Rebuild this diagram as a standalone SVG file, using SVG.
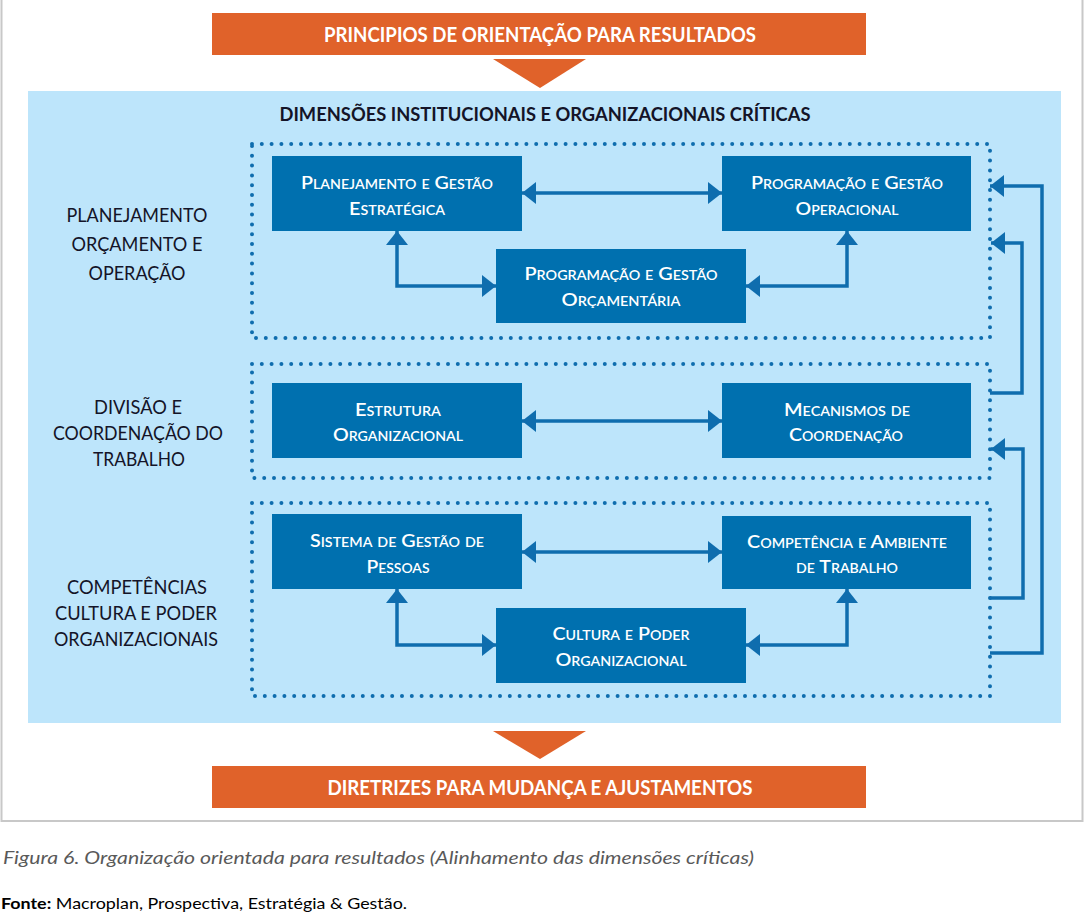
<svg xmlns="http://www.w3.org/2000/svg" width="1084" height="922" viewBox="0 0 1084 922">
<style>
.banner{fill:#E0622A}
.bantxt{font-family:Lato,"Liberation Sans",sans-serif;font-weight:bold;font-size:20px;fill:#fff;text-anchor:middle}
.box{fill:#0070AF}
.btxt{font-family:Lato,"Liberation Sans",sans-serif;font-size:18px;font-variant:small-caps;fill:#fff;text-anchor:middle;font-weight:600}
.lbl{font-family:Lato,"Liberation Sans",sans-serif;font-size:19px;fill:#141428;text-anchor:middle}
.dot{fill:none;stroke:#0F6DAE;stroke-width:4;stroke-linecap:round;stroke-dasharray:0 9.8}
.con{fill:none;stroke:#0F6DAE;stroke-width:3.5}
</style>
<defs>
<marker id="ah" viewBox="0 0 14 22" refX="14" refY="11" markerWidth="14" markerHeight="22" markerUnits="userSpaceOnUse" orient="auto-start-reverse">
<path d="M0,0 L14,11 L0,22 Z" fill="#0F6DAE"/>
</marker>
</defs>
<rect x="0" y="0" width="1084" height="922" fill="#fff"/>
<path d="M1.5,-5 V821 H1082.5 V-5" fill="none" stroke="#C8C8C8" stroke-width="2"/>

<g id="top-banner">
<rect class="banner" x="212" y="13" width="654" height="42"/>
<text class="bantxt" x="540" y="42" textLength="432" lengthAdjust="spacingAndGlyphs">PRINCIPIOS DE ORIENTAÇÃO PARA RESULTADOS</text>
<path class="banner" d="M493,59 H586 L540,88 Z"/>
</g>

<g id="panel">
<rect x="28" y="91" width="1033" height="632" fill="#BDE5FB"/>
<text x="545" y="121" font-family="Lato,'Liberation Sans',sans-serif" font-weight="bold" font-size="19" fill="#141428" text-anchor="middle" textLength="531" lengthAdjust="spacingAndGlyphs">DIMENSÕES INSTITUCIONAIS E ORGANIZACIONAIS CRÍTICAS</text>
</g>

<g id="groups">
<rect class="dot" x="252" y="144" width="738" height="194"/>
<rect class="dot" x="252" y="364" width="738" height="114"/>
<rect class="dot" x="252" y="503" width="738" height="193"/>
</g>

<g id="labels">
<text class="lbl" x="137" y="222" textLength="141" lengthAdjust="spacingAndGlyphs">PLANEJAMENTO</text>
<text class="lbl" x="137" y="251" textLength="131" lengthAdjust="spacingAndGlyphs">ORÇAMENTO E</text>
<text class="lbl" x="137" y="280" textLength="97" lengthAdjust="spacingAndGlyphs">OPERAÇÃO</text>
<text class="lbl" x="138" y="414" textLength="88" lengthAdjust="spacingAndGlyphs">DIVISÃO E</text>
<text class="lbl" x="138" y="440" textLength="170" lengthAdjust="spacingAndGlyphs">COORDENAÇÃO DO</text>
<text class="lbl" x="139" y="466" textLength="92" lengthAdjust="spacingAndGlyphs">TRABALHO</text>
<text class="lbl" x="137" y="594" textLength="140" lengthAdjust="spacingAndGlyphs">COMPETÊNCIAS</text>
<text class="lbl" x="136" y="620" textLength="162" lengthAdjust="spacingAndGlyphs">CULTURA E PODER</text>
<text class="lbl" x="136" y="646" textLength="164" lengthAdjust="spacingAndGlyphs">ORGANIZACIONAIS</text>
</g>

<g id="connectors">
<path class="con" d="M522,193 H722" marker-start="url(#ah)" marker-end="url(#ah)"/>
<path class="con" d="M397,231 V286 H496" marker-start="url(#ah)" marker-end="url(#ah)"/>
<path class="con" d="M746,286 H847 V231" marker-start="url(#ah)" marker-end="url(#ah)"/>
<path class="con" d="M522,421 H722" marker-start="url(#ah)" marker-end="url(#ah)"/>
<path class="con" d="M522,552 H722" marker-start="url(#ah)" marker-end="url(#ah)"/>
<path class="con" d="M397,589 V645 H496" marker-start="url(#ah)" marker-end="url(#ah)"/>
<path class="con" d="M746,645 H847 V589" marker-start="url(#ah)" marker-end="url(#ah)"/>
<path class="con" d="M990,653 H1042 V186 H990" marker-end="url(#ah)"/>
<path class="con" d="M990,598 H1023 V449 H991" marker-end="url(#ah)"/>
<path class="con" d="M990,393 H1022 V243 H991" marker-end="url(#ah)"/>
</g>

<g id="n-pge">
<rect class="box" x="272" y="156" width="250" height="75"/>
<text class="btxt" x="397" y="189" textLength="192" lengthAdjust="spacingAndGlyphs">Planejamento e Gestão</text>
<text class="btxt" x="397" y="215" textLength="96" lengthAdjust="spacingAndGlyphs">Estratégica</text>
</g>
<g id="n-pgo">
<rect class="box" x="722" y="156" width="249" height="75"/>
<text class="btxt" x="847" y="189" textLength="192" lengthAdjust="spacingAndGlyphs">Programação e Gestão</text>
<text class="btxt" x="847" y="215" textLength="103" lengthAdjust="spacingAndGlyphs">Operacional</text>
</g>
<g id="n-pgorc">
<rect class="box" x="496" y="249" width="250" height="74"/>
<text class="btxt" x="621" y="280" textLength="193" lengthAdjust="spacingAndGlyphs">Programação e Gestão</text>
<text class="btxt" x="621" y="306" textLength="119" lengthAdjust="spacingAndGlyphs">Orçamentária</text>
</g>
<g id="n-estrutura">
<rect class="box" x="272" y="383" width="250" height="75"/>
<text class="btxt" x="398" y="416" textLength="86" lengthAdjust="spacingAndGlyphs">Estrutura</text>
<text class="btxt" x="398" y="441" textLength="130" lengthAdjust="spacingAndGlyphs">Organizacional</text>
</g>
<g id="n-mecanismos">
<rect class="box" x="722" y="383" width="249" height="75"/>
<text class="btxt" x="847" y="416" textLength="126" lengthAdjust="spacingAndGlyphs">Mecanismos de</text>
<text class="btxt" x="846" y="441" textLength="114" lengthAdjust="spacingAndGlyphs">Coordenação</text>
</g>
<g id="n-sistema">
<rect class="box" x="272" y="514" width="250" height="75"/>
<text class="btxt" x="397" y="547" textLength="174" lengthAdjust="spacingAndGlyphs">Sistema de Gestão de</text>
<text class="btxt" x="398" y="573" textLength="63" lengthAdjust="spacingAndGlyphs">Pessoas</text>
</g>
<g id="n-competencia">
<rect class="box" x="722" y="516" width="249" height="73"/>
<text class="btxt" x="847" y="548" textLength="200" lengthAdjust="spacingAndGlyphs">Competência e Ambiente</text>
<text class="btxt" x="847" y="573" textLength="102" lengthAdjust="spacingAndGlyphs">de Trabalho</text>
</g>
<g id="n-cultura">
<rect class="box" x="496" y="608" width="250" height="75"/>
<text class="btxt" x="621" y="640" textLength="137" lengthAdjust="spacingAndGlyphs">Cultura e Poder</text>
<text class="btxt" x="621" y="666" textLength="131" lengthAdjust="spacingAndGlyphs">Organizacional</text>
</g>

<g id="bottom-banner">
<path class="banner" d="M493,731 H586 L540,759 Z"/>
<rect class="banner" x="212" y="766" width="654" height="42"/>
<text class="bantxt" x="540" y="795" textLength="425" lengthAdjust="spacingAndGlyphs">DIRETRIZES PARA MUDANÇA E AJUSTAMENTOS</text>
</g>

<g id="caption">
<text x="3" y="864" font-family="Lato,'Liberation Sans',sans-serif" font-style="italic" font-size="17" fill="#595959" textLength="751" lengthAdjust="spacingAndGlyphs">Figura 6. Organização orientada para resultados (Alinhamento das dimensões críticas)</text>
<text x="1" y="909" font-family="Lato,'Liberation Sans',sans-serif" font-size="16" fill="#000" textLength="406" lengthAdjust="spacingAndGlyphs"><tspan font-weight="bold">Fonte:</tspan> Macroplan, Prospectiva, Estratégia &amp; Gestão.</text>
</g>
</svg>
